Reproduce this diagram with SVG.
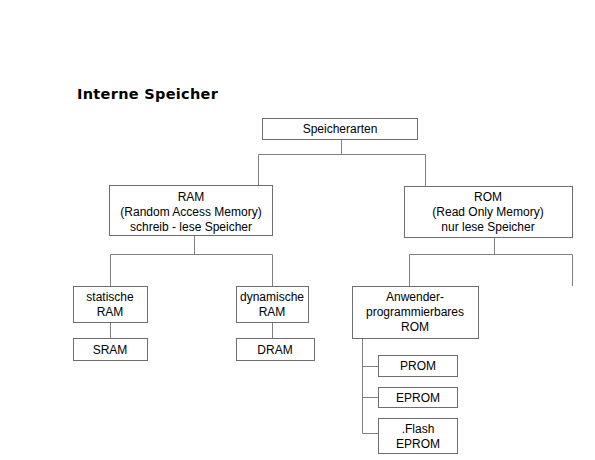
<svg xmlns="http://www.w3.org/2000/svg" width="595" height="460" viewBox="0 0 595 460">
<style>
.box{fill:#fff;stroke:#6e6e6e;stroke-width:1}
.ln{fill:none;stroke:#808080;stroke-width:1}
text{font-family:"Liberation Sans",Arial,sans-serif;font-size:12px;fill:#000;text-anchor:middle}
.title{font-family:"DejaVu Sans",Verdana,sans-serif;font-weight:bold;font-size:14.5px;letter-spacing:0.3px;text-anchor:start}
</style>
<rect width="595" height="460" fill="#fff"/>
<text class="title" x="77" y="99">Interne Speicher</text>
<g id="connectors">
<path class="ln" d="M341.5 139V154.5M258.5 185V154.5H425.5V186"/>
<path class="ln" d="M194.5 235V254.5M110.5 286V254.5H272.5V286"/>
<path class="ln" d="M110.5 322V338M272.5 322V338"/>
<path class="ln" d="M494.5 237V254.5M409.5 286V254.5H572.5V286"/>
<path class="ln" d="M362.5 338V433.5H378M362.5 366.5H378M362.5 397.5H378"/>
</g>
<g id="speicherarten"><rect class="box" x="262.5" y="118.5" width="155" height="21"/><text x="340" y="133">Speicherarten</text></g>
<g id="ram"><rect class="box" x="109.5" y="185.5" width="163" height="50"/><text x="191" y="201">RAM</text><text x="191" y="216">(Random Access Memory)</text><text x="191" y="231">schreib - lese Speicher</text></g>
<g id="rom"><rect class="box" x="404.5" y="186.5" width="168" height="51"/><text x="488" y="201">ROM</text><text x="488" y="216">(Read Only Memory)</text><text x="488" y="231">nur lese Speicher</text></g>
<g id="statische"><rect class="box" x="73.5" y="286.5" width="74" height="36"/><text x="110" y="301">statische</text><text x="110" y="316">RAM</text></g>
<g id="sram"><rect class="box" x="73.5" y="338.5" width="74" height="22"/><text x="110" y="354">SRAM</text></g>
<g id="dynamische"><rect class="box" x="236.5" y="286.5" width="72" height="36"/><text x="272" y="301">dynamische</text><text x="272" y="316">RAM</text></g>
<g id="dram"><rect class="box" x="236.5" y="338.5" width="78" height="22"/><text x="275" y="354">DRAM</text></g>
<g id="anwender"><rect class="box" x="352.5" y="286.5" width="126" height="52"/><text x="415" y="301">Anwender-</text><text x="415" y="316">programmierbares</text><text x="415" y="331">ROM</text></g>
<g id="prom"><rect class="box" x="378.5" y="355.5" width="79" height="21"/><text x="418" y="370">PROM</text></g>
<g id="eprom"><rect class="box" x="378.5" y="387.5" width="79" height="20"/><text x="418" y="402">EPROM</text></g>
<g id="flash"><rect class="box" x="378.5" y="418.5" width="79" height="35"/><text x="418" y="433">.Flash</text><text x="418" y="448">EPROM</text></g>
</svg>
